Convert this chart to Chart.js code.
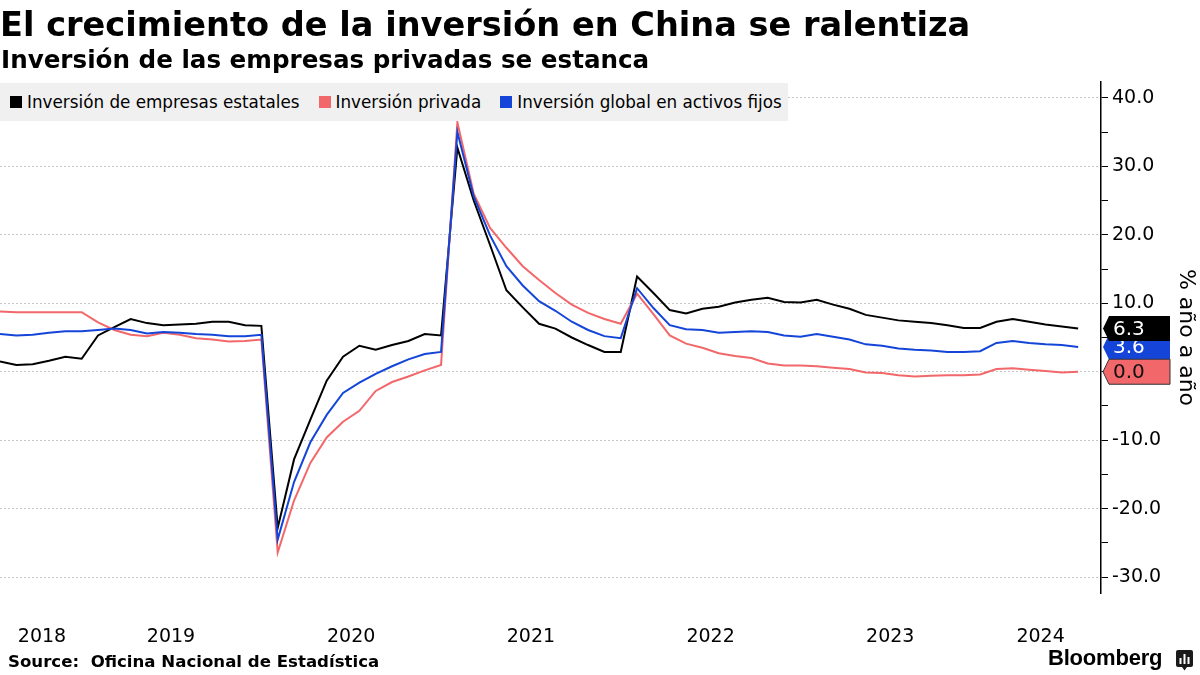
<!DOCTYPE html>
<html>
<head>
<meta charset="utf-8">
<script src="https://cdn.jsdelivr.net/npm/chart.js@4.4.1/dist/chart.umd.min.js"></script>
<style>
    body { margin: 0; width: 1200px; height: 675px; overflow: hidden; background: #fff; font-family: "DejaVu Sans", sans-serif; color: #000; position: relative; }
    #chart { position: absolute; left: 0; top: 0; }
    .title { position: absolute; left: 0; top: 5px; font-size: 33.6px; line-height: 40px; font-weight: bold; white-space: nowrap; }
    .subtitle { position: absolute; left: 1px; top: 46px; font-size: 24.6px; line-height: 28px; font-weight: bold; white-space: nowrap; }
    .legend { position: absolute; left: 0; top: 83px; width: 788px; height: 38px; background: #f0f0f0; display: flex; align-items: center; padding-left: 10px; box-sizing: border-box; font-size: 16.8px; white-space: nowrap; }
    .legend .item { display: flex; align-items: center; margin-right: 19px; }
    .legend .sw { width: 12px; height: 12px; margin-right: 5px; }
    .source { position: absolute; left: 8px; top: 652px; font-size: 16.6px; font-weight: bold; white-space: pre; }
    .brand { position: absolute; left: 1048px; top: 645px; font-family: "Liberation Sans", Arial, sans-serif; font-size: 22px; font-weight: bold; letter-spacing: -0.2px; }
    .icon { position: absolute; left: 1176px; top: 650px; }
</style>
</head>
<body>
<canvas id="chart" width="1200" height="675"></canvas>
<div class="title">El crecimiento de la inversión en China se ralentiza</div>
<div class="subtitle">Inversión de las empresas privadas se estanca</div>
<div class="legend" id="legend"></div>
<div class="source">Source:  Oficina Nacional de Estadística</div>
<div class="brand">Bloomberg</div>
<svg class="icon" width="17" height="21" viewBox="0 0 17 21">
    <path d="M2 0 H15 Q17 0 17 2 V15 Q17 17 15 17 H11 L8.5 20.5 L6 17 H2 Q0 17 0 15 V2 Q0 0 2 0 Z" fill="#1a1a1a"/>
    <rect x="3.5" y="8" width="2" height="6" fill="#fff"/>
    <rect x="7.5" y="4" width="2" height="10" fill="#fff"/>
    <rect x="11.5" y="7" width="2" height="7" fill="#fff"/>
</svg>
<script>
// datos acumulados en el año (ene-feb juntos, sin enero)
const months = [
    '2018-07', '2018-08', '2018-09', '2018-10', '2018-11', '2018-12',
    '2019-02', '2019-03', '2019-04', '2019-05', '2019-06', '2019-07', '2019-08', '2019-09', '2019-10', '2019-11', '2019-12',
    '2020-02', '2020-03', '2020-04', '2020-05', '2020-06', '2020-07', '2020-08', '2020-09', '2020-10', '2020-11', '2020-12',
    '2021-02', '2021-03', '2021-04', '2021-05', '2021-06', '2021-07', '2021-08', '2021-09', '2021-10', '2021-11', '2021-12',
    '2022-02', '2022-03', '2022-04', '2022-05', '2022-06', '2022-07', '2022-08', '2022-09', '2022-10', '2022-11', '2022-12',
    '2023-02', '2023-03', '2023-04', '2023-05', '2023-06', '2023-07', '2023-08', '2023-09', '2023-10', '2023-11', '2023-12',
    '2024-02', '2024-03', '2024-04', '2024-05', '2024-06', '2024-07'
];

const estatales = [
    1.5, 1.0, 1.1, 1.6, 2.2, 1.9,
    5.3, 6.5, 7.7, 7.1, 6.8, 6.9, 7.0, 7.3, 7.3, 6.8, 6.7,
    -22.8, -12.8, -7.0, -1.3, 2.2, 3.8, 3.2, 3.9, 4.5, 5.5, 5.3,
    32.7, 25.0, 18.5, 11.9, 9.4, 7.0, 6.3, 5.0, 3.9, 2.9, 2.9,
    13.9, 11.5, 9.0, 8.5, 9.2, 9.5, 10.1, 10.5, 10.8, 10.2, 10.1,
    10.5, 9.8, 9.2, 8.3, 7.9, 7.5, 7.3, 7.1, 6.8, 6.4, 6.4,
    7.3, 7.7, 7.3, 6.9, 6.6, 6.3
];

const privada = [
    8.8, 8.7, 8.7, 8.7, 8.7, 8.7,
    7.2, 6.1, 5.4, 5.2, 5.7, 5.4, 4.9, 4.7, 4.4, 4.5, 4.7,
    -26.4, -18.8, -13.3, -9.6, -7.3, -5.7, -2.8, -1.5, -0.7, 0.2, 1.0,
    36.4, 26.0, 21.0, 18.1, 15.4, 13.4, 11.5, 9.8, 8.6, 7.7, 7.0,
    11.4, 8.4, 5.3, 4.1, 3.5, 2.7, 2.3, 2.0, 1.2, 0.9, 0.9,
    0.8, 0.6, 0.4, -0.1, -0.2, -0.5, -0.7, -0.6, -0.5, -0.5, -0.4,
    0.4, 0.5, 0.3, 0.1, -0.1, 0.0
];

const global = [
    5.5, 5.3, 5.4, 5.7, 5.9, 5.9,
    6.1, 6.3, 6.1, 5.6, 5.8, 5.7, 5.5, 5.4, 5.2, 5.2, 5.4,
    -24.5, -16.1, -10.3, -6.3, -3.1, -1.6, -0.3, 0.8, 1.8, 2.6, 2.9,
    35.0, 25.6, 19.9, 15.4, 12.6, 10.3, 8.9, 7.3, 6.1, 5.2, 4.9,
    12.2, 9.3, 6.8, 6.2, 6.1, 5.7, 5.8, 5.9, 5.8, 5.3, 5.1,
    5.5, 5.1, 4.7, 4.0, 3.8, 3.4, 3.2, 3.1, 2.9, 2.9, 3.0,
    4.2, 4.5, 4.2, 4.0, 3.9, 3.6
];

const yearLabels = ['2018', '2019', '2020', '2021', '2022', '2023', '2024'];
const yearLabelAt = [2.57, 10.47, 21.5, 32.5, 43.5, 54.5, 63.7]; // índice del mes donde va el año
const yTicks = [-30, -25, -20, -15, -10, -5, 0, 5, 10, 15, 20, 25, 30, 35, 40];

const series = [
    { label: 'Inversión de empresas estatales', data: estatales, color: '#000000', text: '#ffffff', order: 2 },
    { label: 'Inversión privada', data: privada, color: '#f2686a', text: '#111111', order: 1 },
    { label: 'Inversión global en activos fijos', data: global, color: '#1445d8', text: '#ffffff', order: 0 }
];

document.getElementById('legend').innerHTML = series.map(s => `
    <div class="item"><div class="sw" style="background:${s.color}"></div>${s.label}</div>
`).join('');

// etiquetas del último valor junto al eje
const endLabels = {
    id: 'endLabels',
    afterDatasetsDraw(chart) {
        const { ctx, scales: { y } } = chart;
        const x0 = chart.chartArea.right + 2;
        [2, 1, 0].forEach(i => {
            const s = series[i];
            const v = s.data[s.data.length - 1];
            const cy = y.getPixelForValue(v);
            ctx.save();
            ctx.beginPath();
            ctx.moveTo(x0, cy);
            ctx.lineTo(x0 + 6, cy - 12.5);
            ctx.lineTo(x0 + 67, cy - 12.5);
            ctx.lineTo(x0 + 67, cy + 12.5);
            ctx.lineTo(x0 + 6, cy + 12.5);
            ctx.closePath();
            ctx.fillStyle = s.color;
            ctx.fill();
            if (i === 1) { ctx.strokeStyle = '#333'; ctx.lineWidth = 1; ctx.stroke(); }
            ctx.fillStyle = s.text;
            ctx.font = '20px "DejaVu Sans"';
            ctx.textBaseline = 'middle';
            ctx.fillText(v.toFixed(1), x0 + 10, cy + 1);
            ctx.restore();
        });
    }
};

Chart.defaults.font.family = '"DejaVu Sans", sans-serif';
Chart.defaults.color = '#000';

new Chart(document.getElementById('chart'), {
    type: 'line',
    data: {
        labels: months,
        datasets: series.map(s => ({
            label: s.label,
            data: s.data.map((v, i) => ({ x: i, y: v })),
            borderColor: s.color,
            borderWidth: 2,
            pointRadius: 0,
            tension: 0,
            order: s.order
        }))
    },
    options: {
        responsive: false,
        animation: false,
        layout: { padding: { top: 82, left: 0, right: 0, bottom: 0 } },
        plugins: { legend: { display: false }, tooltip: { enabled: false } },
        scales: {
            x: {
                type: 'linear',
                min: 0,
                max: 67.4,
                grid: { display: false },
                border: { display: false },
                afterFit: s => { s.height = 82; s.paddingLeft = 0; s.paddingRight = 0; },
                afterBuildTicks: s => { s.ticks = yearLabelAt.map(v => ({ value: v })); },
                ticks: {
                    padding: 25,
                    maxRotation: 0,
                    autoSkip: false,
                    font: { size: 19 },
                    callback: (v, i) => yearLabels[i]
                }
            },
            y: {
                position: 'right',
                min: -32.3,
                max: 42.3,
                afterFit: s => { s.width = 99; },
                afterBuildTicks: s => { s.ticks = yTicks.map(v => ({ value: v })); },
                grid: {
                    color: c => (c.tick && c.tick.value % 10 === 0) ? '#c6c6c6' : 'rgba(0,0,0,0)',
                    lineWidth: 1,
                    tickLength: 7,
                    tickColor: '#000',
                    tickWidth: 1
                },
                border: { display: true, color: '#000', width: 1.5, dash: [2, 2] },
                ticks: {
                    padding: 4,
                    font: { size: 19 },
                    callback: v => v % 10 === 0 ? v.toFixed(1) : ''
                },
                title: {
                    display: true,
                    text: '% año a año',
                    font: { size: 22 },
                    padding: { top: 1, bottom: 0 }
                }
            }
        }
    },
    plugins: [endLabels]
});
</script>
</body>
</html>
